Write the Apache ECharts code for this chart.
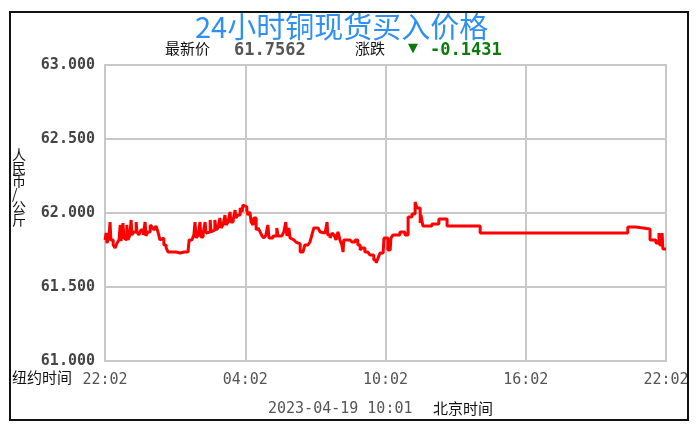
<!DOCTYPE html>
<html>
<head>
<meta charset="utf-8">
<script src="https://cdn.jsdelivr.net/npm/echarts@6/dist/echarts.min.js"></script>
<style>
  html, body { margin: 0; padding: 0; background: #fff; }
  #chart { width: 697px; height: 427px; }
</style>
</head>
<body>
<div id="chart"></div>
<script>
// minutes since 22:02 New York time
const times = [
  0, 3, 5, 10, 13, 15, 21, 26, 31, 36, 39, 41, 46, 49, 54, 56, 59, 64, 67, 69,
  74, 80, 82, 87, 92, 98, 103, 105, 110, 116, 121, 126, 131, 136, 141, 146, 151, 157, 162, 172,
  182, 193, 203, 213, 216, 223, 228, 231, 234, 239, 244, 246, 252, 257, 259, 264, 270, 272, 277, 282,
  285, 290, 295, 298, 303, 308, 311, 316, 321, 323, 329, 334, 336, 341, 347, 352, 354, 359, 364, 367,
  372, 375, 380, 382, 388, 393, 398, 403, 408, 413, 418, 421, 426, 431, 436, 441, 444, 449, 454, 459,
  464, 467, 472, 475, 480, 485, 490, 495, 501, 508, 513, 521, 526, 531, 536, 547, 552, 557, 565, 570,
  572, 578, 583, 588, 593, 598, 603, 608, 611, 613, 621, 629, 634, 642, 649, 655, 660, 667, 675, 680,
  685, 690, 696, 701, 706, 714, 716, 721, 726, 732, 734, 739, 757, 770, 778, 788, 796, 801, 809, 811,
  816, 839, 857, 878, 963, 1342, 1363, 1399, 1414, 1422, 1424, 1430, 1432, 1440
];
const prices = [
  61.818, 61.865, 61.797, 61.831, 61.939, 61.818, 61.784, 61.764, 61.797, 61.818, 61.919, 61.811, 61.932, 61.831, 61.818, 61.919, 61.818, 61.851, 61.953, 61.851,
  61.872, 61.939, 61.872, 61.851, 61.885, 61.851, 61.939, 61.845, 61.872, 61.919, 61.905, 61.885, 61.912, 61.872, 61.818, 61.831, 61.784, 61.764, 61.736, 61.736,
  61.730, 61.736, 61.736, 61.730, 61.818, 61.818, 61.851, 61.939, 61.831, 61.851, 61.939, 61.838, 61.865, 61.939, 61.865, 61.872, 61.953, 61.872, 61.885, 61.953,
  61.885, 61.899, 61.966, 61.899, 61.919, 61.986, 61.919, 61.939, 62.007, 61.939, 61.953, 62.020, 61.966, 61.986, 62.034, 62.007, 62.054, 62.041, 62.020, 61.986,
  62.007, 61.939, 61.919, 61.966, 61.885, 61.899, 61.872, 61.845, 61.831, 61.851, 61.919, 61.831, 61.831, 61.845, 61.845, 61.899, 61.845, 61.845, 61.858, 61.872,
  61.939, 61.845, 61.899, 61.831, 61.818, 61.818, 61.804, 61.791, 61.736, 61.736, 61.784, 61.784, 61.804, 61.851, 61.899, 61.899, 61.872, 61.865, 61.865, 61.939,
  61.851, 61.831, 61.865, 61.851, 61.818, 61.872, 61.818, 61.784, 61.736, 61.818, 61.818, 61.818, 61.804, 61.818, 61.784, 61.750, 61.764, 61.736, 61.736, 61.716,
  61.716, 61.682, 61.662, 61.696, 61.730, 61.730, 61.831, 61.831, 61.750, 61.750, 61.831, 61.851, 61.872, 61.851, 61.973, 61.993, 62.074, 62.034, 61.932, 61.986,
  61.912, 61.926, 61.959, 61.912, 61.865, 61.905, 61.892, 61.818, 61.797, 61.865, 61.784, 61.865, 61.757, 61.7562
];
const xTickLabels = ['22:02', '04:02', '10:02', '16:02', '22:02'];
const latestPrice = '61.7562';
const change = '-0.1431';
const updateTime = '2023-04-19 10:01';

const chart = echarts.init(document.getElementById('chart'));
const mono = 'DejaVu Sans Mono';
const cjk = 'Noto Sans CJK SC';

chart.setOption({
  animation: false,
  backgroundColor: '#fff',
  title: {
    text: '24小时铜现货买入价格',
    left: 190,
    top: 7,
    textStyle: { color: '#2e90f2', fontSize: 29, fontWeight: 'normal', fontFamily: cjk }
  },
  grid: { left: 105, right: 31, top: 65, bottom: 66, show: true, borderColor: '#c8c8c8', borderWidth: 2 },
  xAxis: {
    type: 'value',
    min: 0,
    max: 1440,
    interval: 360,
    axisLine: { show: false },
    axisTick: { show: false },
    splitLine: { lineStyle: { color: '#c8c8c8', width: 2 } },
    axisLabel: {
      margin: 12,
      color: '#555',
      fontFamily: mono,
      fontSize: 15,
      showMinLabel: true,
      showMaxLabel: true,
      formatter: v => xTickLabels[Math.round(v / 360)]
    }
  },
  yAxis: {
    type: 'value',
    min: 61,
    max: 63,
    interval: 0.5,
    axisLine: { show: false },
    axisTick: { show: false },
    splitLine: { lineStyle: { color: '#c8c8c8', width: 2 } },
    axisLabel: {
      margin: 10,
      color: '#444',
      fontFamily: mono,
      fontWeight: 'bold',
      fontSize: 15,
      formatter: v => v.toFixed(3)
    }
  },
  series: [{
    type: 'line',
    step: 'end',
    showSymbol: false,
    lineStyle: { color: '#ff0000', width: 3 },
    data: times.map((t, i) => [t, prices[i]])
  }],
  graphic: [
    { type: 'rect', z: 100, shape: { x: 689, y: 0, width: 10, height: 427 }, style: { fill: '#fff' } },
    { type: 'rect', z: 101, shape: { x: 10, y: 12, width: 678, height: 408 }, style: { fill: 'none', stroke: '#111', lineWidth: 2 } },
    { type: 'text', x: 165, y: 41, style: { text: '最新价', font: '15px "Noto Sans CJK SC"', fill: '#111' } },
    { type: 'text', x: 234, y: 42, style: { text: latestPrice, font: 'bold 17px "DejaVu Sans Mono"', fill: '#555' } },
    { type: 'text', x: 355, y: 41, style: { text: '涨跌', font: '15px "Noto Sans CJK SC"', fill: '#111' } },
    { type: 'text', x: 408, y: 42, style: { text: '▼', font: '13px "DejaVu Sans"', fill: '#0a7a0a' } },
    { type: 'text', x: 430, y: 42, style: { text: change, font: 'bold 17px "DejaVu Sans Mono"', fill: '#0a7a0a' } },
    { type: 'text', x: 12, y: 148, style: { text: '人\n民\n币\n/\n公\n斤', font: '14px "Noto Sans CJK SC"', lineHeight: 13, fill: '#111' } },
    { type: 'text', x: 12, y: 370, style: { text: '纽约时间', font: '15px "Noto Sans CJK SC"', fill: '#111' } },
    { type: 'text', x: 268, y: 402, style: { text: updateTime, font: '15px "DejaVu Sans Mono"', fill: '#555' } },
    { type: 'text', x: 433, y: 401, style: { text: '北京时间', font: '15px "Noto Sans CJK SC"', fill: '#111' } }
  ]
});
</script>
</body>
</html>
